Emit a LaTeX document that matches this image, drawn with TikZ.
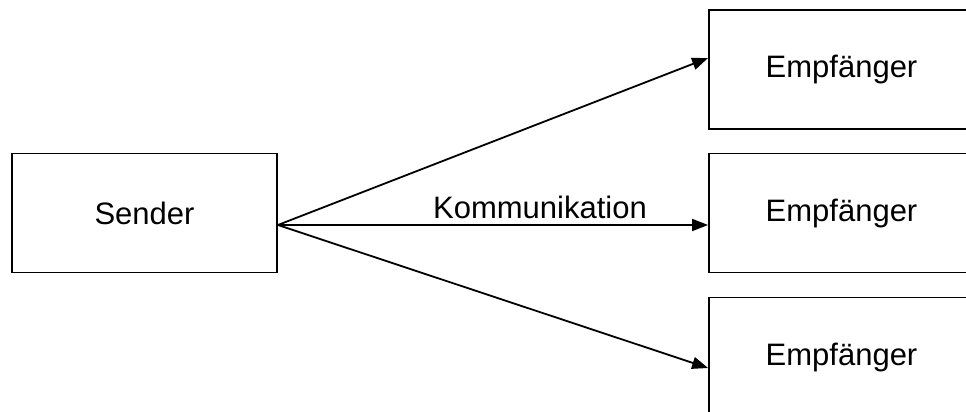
\documentclass[tikz,border=0pt]{standalone}
\usepackage{fontspec}
\setmainfont{Liberation Sans}
\usetikzlibrary{arrows.meta}
\begin{document}
\begin{tikzpicture}[x=1pt,y=-1pt,
  box/.style={draw=black,line width=1.8pt,minimum width=265pt,minimum height=119pt,inner sep=0pt,font=\fontsize{31}{37}\selectfont},
  arr/.style={line width=1.8pt,-{Triangle[length=16pt,width=12pt]}},
  lbl/.style={inner sep=0pt,font=\fontsize{31}{37}\selectfont}]
\useasboundingbox (0,0) rectangle (966,412);
\fill[white] (0,0) rectangle (966,412);
\node[box] (s) at (144.5,213) {Sender};
\node[box] (e1) at (841.5,69.5) {Empfänger};
\node[box] (e2) at (841.5,213) {Empfänger};
\node[box] (e3) at (841.5,357) {Empfänger};
\coordinate (o) at ([yshift=-12pt]s.east);
\draw[arr] (o) -- ([yshift=11.5pt]e1.west);
\draw[arr] (o) -- ([yshift=-12pt]e2.west);
\draw[arr] (o) -- ([yshift=-11pt]e3.west);
\node[lbl] (k) at (540,207) {Kommunikation};
\end{tikzpicture}
\end{document}
